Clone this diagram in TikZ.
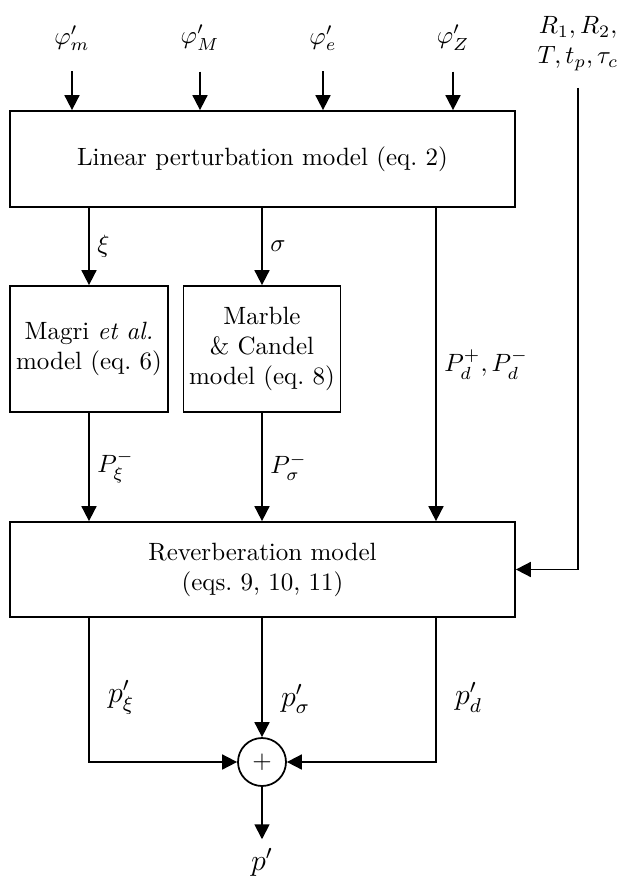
\documentclass[tikz,border=0pt]{standalone}
\usepackage{amsmath}
\usetikzlibrary{arrows.meta,calc}
\def\px{0.4pt}

\begin{document}
\begin{tikzpicture}[x=0.4pt,y=-0.4pt,
		block/.style={draw,line width=0.7pt,align=center,inner sep=0pt},
		arr/.style={line width=0.7pt,-{Triangle[length=6pt,width=6pt]}},
		lbl/.style={inner sep=3pt}]
		%%%%% START %%%%%
		\useasboundingbox (0,0) rectangle (618,886);
		
		\node (phim) at (72,38) {$\varphi'_m$};
		\node (phiM) at (200,38) {$\varphi'_M$};
		\node (phie) at (323,38) {$\varphi'_e$};
		\node (phiZ) at (453,38) {$\varphi'_Z$};
		\node[align=center] (par) at (578,44) {$R_1, R_2,$\\$T, t_p, \tau_c$};
		
		\node[block,minimum width=505*\px,minimum height=96*\px] (lin) at (262.5,159) {Linear perturbation model (eq.~2)};
		\node[block,minimum width=158*\px,minimum height=126*\px] (magri) at (89,349) {Magri \textit{et al.}\\model (eq.~6)};
		\node[block,minimum width=157*\px,minimum height=126*\px] (marble) at (262,349) {Marble\\\& Candel\\model (eq.~8)};
		\node[block,minimum width=505*\px,minimum height=95*\px] (rev) at (262.5,569.5) {Reverberation model\\(eqs.~9, 10, 11)};
		\node[draw,line width=0.7pt,circle,minimum size=48*\px,inner sep=0pt] (sum) at (262,762) {$+$};
		\node (pout) at (262,862) {\large $p'$};
		\coordinate (pd) at (436,0);
		
		% inputs
		\foreach \n in {phim,phiM,phie,phiZ}
			\draw[arr] ([yshift=-12*\px]\n.south) -- (\n.south |- lin.north);
		\draw[arr] ([yshift=-8*\px]par.south) |- (rev.east);
		
		% linear model to blocks
		\draw[arr] (magri.north |- lin.south) -- node[right,lbl] {$\xi$} (magri.north);
		\draw[arr] (marble.north |- lin.south) -- node[right,lbl] {$\sigma$} (marble.north);
		\draw[arr] (pd |- lin.south) -- node[right,lbl] {$P_d^+, P_d^-$} (pd |- rev.north);
		\draw[arr] (magri.south) -- node[right,lbl] {$P_\xi^-$} (magri.south |- rev.north);
		\draw[arr] (marble.south) -- node[right,lbl] {$P_\sigma^-$} (marble.south |- rev.north);
		
		% summation
		\draw[arr] (magri.south |- rev.south) -- node[pos=0.55,right,xshift=10*\px] {\large $p'_\xi$} (magri.south |- sum.west) -- (sum.west);
		\draw[arr] (rev.south -| sum.north) -- node[pos=0.68,right,xshift=10*\px] {\large $p'_\sigma$} (sum.north);
		\draw[arr] (pd |- rev.south) -- node[pos=0.55,right,xshift=10*\px] {\large $p'_d$} (pd |- sum.east) -- (sum.east);
		\draw[arr] (sum.south) -- (pout.north);
		
		%%%%% END %%%%%
	\end{tikzpicture}
\end{document}
